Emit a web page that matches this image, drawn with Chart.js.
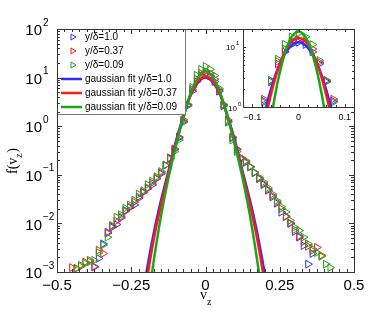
<!DOCTYPE html>
<html>
<head>
<meta charset="utf-8">
<script src="https://cdn.jsdelivr.net/npm/chart.js@4"></script>
<style>
  body { margin: 0; background: #fff; }
  #wrap { position: relative; width: 374px; height: 316px; }
  #main { position: absolute; left: 0; top: 0; }
  #inset { position: absolute; left: 215px; top: 20px; }
</style>
</head>
<body>
<div id="wrap">
  <canvas id="main" width="374" height="316"></canvas>
  <canvas id="inset" width="155" height="110"></canvas>
</div>
<script>
// measured pdf, one shared v_z grid (null = no point)
const vz = [-0.45, -0.435, -0.42, -0.405, -0.39, -0.375, -0.36, -0.345, -0.33, -0.315,
  -0.3, -0.285, -0.27, -0.255, -0.24, -0.225, -0.21, -0.195, -0.18, -0.165,
  -0.15, -0.135, -0.12, -0.105, -0.09, -0.075, -0.06, -0.045, -0.03, -0.015,
  0, 0.015, 0.03, 0.045, 0.06, 0.075, 0.09, 0.105, 0.12, 0.135,
  0.15, 0.165, 0.18, 0.195, 0.21, 0.225, 0.24, 0.255, 0.27, 0.285,
  0.3, 0.315, 0.33, 0.345, 0.36, 0.375, 0.39, 0.405, 0.42];

const f10 = [null, null, null, null, null, 1.3e-3, 1.9e-3, 3.8e-3, 6.6e-3, 8.3e-3,
  0.95e-2, 1.3e-2, 1.85e-2, 2.1e-2, 2.4e-2, 3.3e-2, 4.4e-2, 5.2e-2, 6.2e-2, 8.3e-2,
  0.105, 0.158, 0.22, 0.33, 0.575, 1.26, 2.63, 5.25, 8.3, 11.0,
  12.0, 11.0, 8.3, 5.25, 2.63, 1.26, 0.575, 0.33, 0.22, 0.18,
  0.145, 0.11, 0.083, 0.063, 0.048, 0.035, 0.026, 0.017, 0.0138, 0.01,
  0.0068, 0.0052, 0.0035, 0.00145, 0.0024, null, null, null, null];

const f037 = [1.23e-3, 1.17e-3, 1.3e-3, 1.6e-3, 1.74e-3, 1.26e-3, 2.8e-3, 2.4e-3, 6.3e-3, 8.7e-3,
  1.12e-2, 1.38e-2, 1.78e-2, 2.2e-2, 2.75e-2, 3.5e-2, 4.3e-2, 5.4e-2, 6.8e-2, 8.5e-2,
  0.11, 0.158, 0.224, 0.34, 0.6, 1.35, 2.8, 5.75, 9.3, 12.3,
  13.5, 12.3, 9.3, 5.6, 2.8, 1.35, 0.6, 0.34, 0.224, 0.195,
  0.148, 0.112, 0.085, 0.066, 0.05, 0.037, 0.0275, 0.02, 0.0141, 0.0102,
  0.0074, 0.0055, 0.0042, 0.0034, 0.00275, 0.0032, 0.0022, null, null];

const f009 = [null, 1.2e-3, 1.38e-3, 1.5e-3, 1.62e-3, 1.74e-3, 2.5e-3, 3.6e-3, 5.2e-3, 9.1e-3,
  1.35e-2, 1.51e-2, 2.05e-2, 2.4e-2, 3.0e-2, 4.0e-2, 4.7e-2, 6.3e-2, 7.4e-2, 9.1e-2,
  0.117, 0.158, 0.21, 0.3, 0.52, 1.2, 2.75, 6.3, 11.2, 14.8,
  17.0, 14.8, 11.0, 6.0, 2.75, 1.2, 0.52, 0.3, 0.21, 0.186,
  0.145, 0.112, 0.089, 0.071, 0.054, 0.04, 0.0295, 0.022, 0.0172, 0.0115,
  0.0083, 0.0071, 0.0052, 0.0038, 0.003, 0.0025, 0.0021, 0.00145, 0.00123];

// gaussian fits, main panel
const fitVz = [-0.215, -0.2, -0.175, -0.15, -0.125, -0.1, -0.075, -0.05, -0.025, 0,
  0.025, 0.05, 0.075, 0.1, 0.125, 0.15, 0.175, 0.2, 0.215];
const fit10 = [0.00025, 0.00089, 0.006, 0.0295, 0.117, 0.48, 1.58, 4.37, 7.94, 10.0,
  7.94, 4.37, 1.58, 0.48, 0.117, 0.0295, 0.006, 0.00089, 0.00025];
const fit037 = [0.00016, 0.00056, 0.00447, 0.024, 0.105, 0.437, 1.51, 4.37, 8.3, 10.7,
  8.3, 4.37, 1.51, 0.437, 0.105, 0.024, 0.00447, 0.00056, 0.00016];
const fit009 = [0.00003, 0.000126, 0.00158, 0.0141, 0.085, 0.38, 1.48, 4.8, 10.0, 13.5,
  10.0, 4.8, 1.48, 0.38, 0.085, 0.0141, 0.00158, 0.000126, 0.00003];

// gaussian fits, inset
const insetVz = [-0.09, -0.08, -0.07, -0.06, -0.05, -0.04, -0.03, -0.02, -0.01, 0,
  0.01, 0.02, 0.03, 0.04, 0.05, 0.06, 0.07, 0.08, 0.09];
const insetFit10 = [0.2, 0.47, 1.0, 1.93, 3.4, 5.3, 7.6, 9.8, 11.4, 12.0,
  11.4, 9.8, 7.6, 5.3, 3.4, 1.93, 1.0, 0.47, 0.2];
const insetFit037 = [0.1, 0.29, 0.72, 1.58, 3.1, 5.3, 8.2, 11.1, 13.3, 14.1,
  13.3, 11.1, 8.2, 5.3, 3.1, 1.58, 0.72, 0.29, 0.1];
const insetFit009 = [0.01, 0.04, 0.166, 0.58, 1.66, 3.9, 7.7, 12.4, 16.5, 18.2,
  16.5, 12.4, 7.7, 3.9, 1.66, 0.58, 0.166, 0.04, 0.01];

const labels = ['y/δ=1.0', 'y/δ=0.37', 'y/δ=0.09'];
const colors = ['rgb(45,45,255)', 'rgb(255,25,25)', 'rgb(25,165,25)'];
const xTicks = [-0.5, -0.25, 0, 0.25, 0.5];
const xTickText = ['−0.5', '−0.25', '0', '0.25', '0.5'];
const yTicks = [-3, -2, -1, 0, 1, 2];
const insetXTicks = [-0.1, 0, 0.1];
const insetXText = ['−0.1', '0', '0.1'];

const SANS = "'Liberation Sans', Arial, sans-serif";
const SERIF = "'Liberation Serif', 'Times New Roman', serif";

function pts(xs, ys) {
  return xs.map((x, i) => ({ x: x, y: ys[i] })).filter(p => p.y != null);
}

function buildSets(fits, fitX) {
  const meas = [f10, f037, f009];
  const sets = [];
  meas.forEach((m, i) => {
    sets.push({
      label: labels[i], data: pts(vz, m), showLine: false,
      pointStyle: 'triangle', rotation: 90, pointRadius: 4.5, pointHoverRadius: 4.5,
      pointBorderWidth: 1, borderColor: colors[i], backgroundColor: 'rgba(0,0,0,0)',
      order: 6 - i, clip: 0
    });
  });
  fits.forEach((f, i) => {
    sets.push({
      label: 'gaussian fit ' + labels[i], data: pts(fitX, f), showLine: true,
      pointRadius: 0, borderColor: colors[i], borderWidth: 2.5, tension: 0.4,
      fill: false, order: 3 - i, clip: 0
    });
  });
  return sets;
}

function logMinor(lo, hi) {
  const out = [];
  for (let e = lo; e < hi; e++) for (let k = 2; k <= 9; k++) out.push(k * Math.pow(10, e));
  return out;
}

function drawTicks(ctx, chart, xs, ys, len, color) {
  const a = chart.chartArea, sx = chart.scales.x, sy = chart.scales.y;
  ctx.strokeStyle = color; ctx.lineWidth = 1;
  ctx.beginPath();
  xs.forEach(v => {
    const p = Math.round(sx.getPixelForValue(v)) + 0.5;
    ctx.moveTo(p, a.bottom); ctx.lineTo(p, a.bottom - len);
    ctx.moveTo(p, a.top); ctx.lineTo(p, a.top + len);
  });
  ys.forEach(v => {
    const p = Math.round(sy.getPixelForValue(v)) + 0.5;
    ctx.moveTo(a.left, p); ctx.lineTo(a.left + len, p);
    ctx.moveTo(a.right, p); ctx.lineTo(a.right - len, p);
  });
  ctx.stroke();
}

function powLabel(ctx, exp, xr, y, big, small) {
  ctx.fillStyle = '#000';
  ctx.textBaseline = 'middle';
  ctx.font = big + 'px ' + SANS; ctx.textAlign = 'right';
  ctx.fillText('10', xr, y);
  ctx.font = small + 'px ' + SANS; ctx.textAlign = 'left';
  ctx.fillText(exp, xr + 1, y - big * 0.55);
}

const mainDecor = {
  id: 'mainDecor',
  beforeDraw(chart) {
    const ctx = chart.ctx;
    ctx.save(); ctx.fillStyle = '#fff'; ctx.fillRect(0, 0, chart.width, chart.height); ctx.restore();
  },
  afterDatasetsDraw(chart) {
    const ctx = chart.ctx, a = chart.chartArea, sx = chart.scales.x, sy = chart.scales.y;
    ctx.save();
    // legend box
    const lx = a.left, ly = a.top, lw = 128, lh = 85;
    ctx.fillStyle = '#fff'; ctx.fillRect(lx, ly, lw, lh);
    ctx.strokeStyle = '#777'; ctx.lineWidth = 1;
    ctx.strokeRect(lx + 0.5, ly + 0.5, lw, lh);
    ctx.font = '10px ' + SANS; ctx.textAlign = 'left'; ctx.textBaseline = 'middle';
    for (let i = 0; i < 3; i++) {
      const y = ly + 8 + i * 14;
      ctx.strokeStyle = colors[i]; ctx.lineWidth = 1;
      ctx.beginPath(); ctx.moveTo(lx + 14, y - 3); ctx.lineTo(lx + 19, y); ctx.lineTo(lx + 14, y + 3); ctx.closePath(); ctx.stroke();
      ctx.fillStyle = '#000'; ctx.fillText(labels[i], lx + 28, y + 0.5);
    }
    for (let i = 0; i < 3; i++) {
      const y = ly + 50 + i * 14;
      ctx.strokeStyle = colors[i]; ctx.lineWidth = 2.5;
      ctx.beginPath(); ctx.moveTo(lx + 4, y); ctx.lineTo(lx + 25, y); ctx.stroke();
      ctx.fillStyle = '#000'; ctx.fillText('gaussian fit ' + labels[i], lx + 28, y + 0.5);
    }
    // frame
    ctx.strokeStyle = '#333'; ctx.lineWidth = 1;
    ctx.strokeRect(a.left + 0.5, a.top + 0.5, a.right - a.left, a.bottom - a.top);
    const minorX = [];
    for (let k = -20; k <= 20; k++) if (k % 10 !== 0) minorX.push(k * 0.025);
    drawTicks(ctx, chart, minorX, logMinor(-3, 2), 3, '#333');
    drawTicks(ctx, chart, xTicks, yTicks.map(e => Math.pow(10, e)), 5, '#333');
    // tick labels
    ctx.fillStyle = '#000'; ctx.font = '15px ' + SANS; ctx.textAlign = 'center'; ctx.textBaseline = 'middle';
    xTicks.forEach((v, i) => ctx.fillText(xTickText[i], sx.getPixelForValue(v), a.bottom + 14));
    yTicks.forEach(e => powLabel(ctx, String(e).replace('-', '−'), a.left - 15, sy.getPixelForValue(Math.pow(10, e)) + 2, 15, 10));
    // axis titles
    ctx.font = '14px ' + SERIF; ctx.textAlign = 'left';
    ctx.fillText('v', 200, 295);
    ctx.font = '10px ' + SERIF; ctx.fillText('z', 207, 302);
    ctx.translate(13, 158); ctx.rotate(-Math.PI / 2);
    ctx.font = '14px ' + SERIF; ctx.textAlign = 'left';
    ctx.fillText('f(v', -16, 0);
    const w = ctx.measureText('f(v').width;
    ctx.font = '10px ' + SERIF; ctx.fillText('z', -16 + w, 6);
    ctx.font = '14px ' + SERIF; ctx.fillText(')', -16 + w + 5, 0);
    ctx.restore();
  }
};

const insetDecor = {
  id: 'insetDecor',
  beforeDatasetsDraw(chart) {
    const ctx = chart.ctx, a = chart.chartArea;
    ctx.save(); ctx.fillStyle = '#fff'; ctx.fillRect(a.left, a.top, a.right - a.left, a.bottom - a.top); ctx.restore();
  },
  afterDatasetsDraw(chart) {
    const ctx = chart.ctx, a = chart.chartArea, sx = chart.scales.x, sy = chart.scales.y;
    ctx.save();
    ctx.strokeStyle = '#333'; ctx.lineWidth = 1;
    ctx.strokeRect(a.left + 0.5, a.top + 0.5, a.right - a.left, a.bottom - a.top);
    const minorX = [];
    for (let k = -6; k <= 6; k++) if (k % 5 !== 0) minorX.push(k * 0.02);
    drawTicks(ctx, chart, minorX, logMinor(0, 2).filter(v => v <= 20), 2, '#333');
    drawTicks(ctx, chart, insetXTicks, [1, 10], 3, '#333');
    ctx.fillStyle = '#000'; ctx.font = '9px ' + SANS; ctx.textAlign = 'center'; ctx.textBaseline = 'middle';
    insetXTicks.forEach((v, i) => ctx.fillText(insetXText[i], sx.getPixelForValue(v), a.bottom + 11));
    powLabel(ctx, '1', a.left - 8, sy.getPixelForValue(10) + 1, 8, 6);
    powLabel(ctx, '0', a.left - 6, sy.getPixelForValue(1) + 2, 8, 6);
    ctx.restore();
  }
};

new Chart(document.getElementById('main'), {
  type: 'scatter',
  data: { datasets: buildSets([fit10, fit037, fit009], fitVz) },
  options: {
    responsive: false, animation: false,
    layout: { padding: { left: 57, top: 29, right: 20, bottom: 44 } },
    plugins: { legend: { display: false }, tooltip: { enabled: false } },
    scales: {
      x: { type: 'linear', min: -0.5, max: 0.5, display: false },
      y: { type: 'logarithmic', min: 1e-3, max: 1e2, display: false }
    }
  },
  plugins: [mainDecor]
});

new Chart(document.getElementById('inset'), {
  type: 'scatter',
  data: { datasets: buildSets([insetFit10, insetFit037, insetFit009], insetVz) },
  options: {
    responsive: false, animation: false,
    layout: { padding: { left: 28, top: 9, right: 16, bottom: 23 } },
    plugins: { legend: { display: false }, tooltip: { enabled: false } },
    scales: {
      x: { type: 'linear', min: -0.12, max: 0.12, display: false },
      y: { type: 'logarithmic', min: 1, max: 20, display: false }
    }
  },
  plugins: [insetDecor]
});
</script>
</body>
</html>
